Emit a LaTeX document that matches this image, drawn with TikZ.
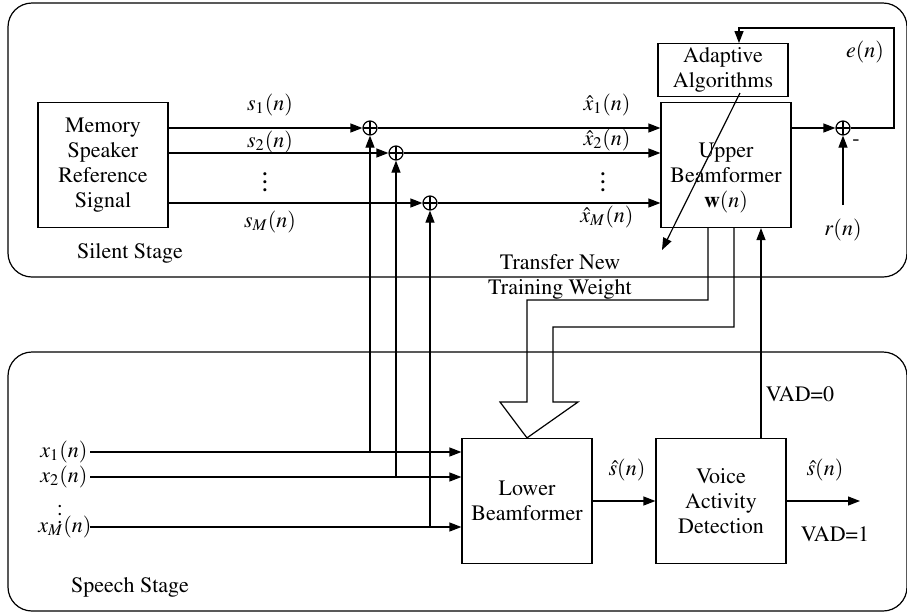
\documentclass[tikz,border=0pt]{standalone}
\usepackage[T1]{fontenc}
\usepackage{mathptmx}
\usetikzlibrary{arrows.meta,positioning}

\begin{document}
\begin{tikzpicture}[
    x=0.5pt, y=-0.5pt, line width=0.6pt,
    every node/.style={font=\fontsize{11}{12.5}\selectfont},
    box/.style={rectangle, draw, minimum width=65pt, minimum height=62.5pt,
                inner sep=2pt, align=center},
    sum/.style={circle, draw, minimum size=7pt, inner sep=0pt,
                path picture={\draw (path picture bounding box.north) -- (path picture bounding box.south)
                  (path picture bounding box.west) -- (path picture bounding box.east);}},
    stage/.style={draw, rounded corners=12pt},
    e/.style={-{Triangle[length=6pt, width=4.5pt]}},
    dts/.style={font=\Large, inner sep=0pt},
  ]
  \useasboundingbox (0,0) rectangle (907,612);
  \draw[stage] (8,3) rectangle (907,277);
  \draw[stage] (8,352) rectangle (907,611);
  \node (silent) at (130,253) {Silent Stage};
  \node (speech) at (130,587) {Speech Stage};

  \node[box] (mem) at (103,165) {Memory\\Speaker\\Reference\\Signal};
  \node[box, minimum height=25pt] (adapt) at (723,70) {Adaptive\\Algorithms};
  \node[box] (upper) at (726,165) {};
  \node[align=center] (uppertxt) at (726,178) {Upper\\Beamformer\\$\mathbf{w}(n)$};
  \node[box] (lower) at (527,501) {Lower\\Beamformer};
  \node[box] (vad) at (721,501) {Voice\\Activity\\Detection};

  \node[sum] (sum1) at (370,128) {};
  \node[sum] (sum2) at (396,153) {};
  \node[sum] (sumM) at (430,203) {};
  \node[sum] (sumE) at (843,128) {};

  \node (s1lbl) at (270,105) {$s_1(n)$};
  \node (s2lbl) at (270,142) {$s_2(n)$};
  \node[dts] (sdots) at (265,176) {$\vdots$};
  \node (sMlbl) at (270,222) {$s_M(n)$};
  \node (xh1lbl) at (607,105) {$\hat{x}_1(n)$};
  \node (xh2lbl) at (607,140) {$\hat{x}_2(n)$};
  \node[dts] (xhdots) at (603,176) {$\vdots$};
  \node (xhMlbl) at (607,217) {$\hat{x}_M(n)$};

  \coordinate (x1) at (90,452);
  \coordinate (x2) at (90,477);
  \coordinate (xM) at (90,527);
  \node[anchor=east, inner sep=1pt] (x1lbl) at (x1) {$x_1(n)$};
  \node[anchor=east, inner sep=1pt] (x2lbl) at (x2) {$x_2(n)$};
  \node[inner sep=0pt] (xdots) at (60,508) {$\vdots$};
  \node[anchor=east, inner sep=1pt] (xMlbl) at ([xshift=2pt]xM) {$x_M(n)$};

  \draw[e] (mem.east |- sum1) -- (sum1);
  \draw[e] (mem.east |- sum2) -- (sum2);
  \draw[e] (mem.east |- sumM) -- (sumM);
  \draw[e] (sum1) -- (upper.west |- sum1);
  \draw[e] (sum2) -- (upper.west |- sum2);
  \draw[e] (sumM) -- (upper.west |- sumM);

  \draw[e] (x1) -- (lower.west |- x1);
  \draw[e] (x2) -- (lower.west |- x2);
  \draw[e] (xM) -- (lower.west |- xM);
  \draw[e] (sum1 |- x1) -- (sum1);
  \draw[e] (sum2 |- x2) -- (sum2);
  \draw[e] (sumM |- xM) -- (sumM);

  \coordinate (fb) at (894,28);
  \coordinate (rin) at (843,205);
  \draw[e] (upper.east |- sumE) -- (sumE);
  \draw[e] (sumE) -| (fb) -| ([xshift=8pt]adapt.north);
  \draw[e] (rin) -- (sumE);
  \node (rlbl) at (843,230) {$r(n)$};
  \node (minus) at (856,143) {-};
  \node (elbl) at (865,52) {$e(n)$};

  \coordinate (da) at (740,93);
  \coordinate (db) at (662,250);
  \draw[e] (da) -- (db);

  \draw (upper.south -| 708,0) |- (527,300) -- (527,402) -- (500,402) -- (lower.north)
    -- (578,402) -- (553,402) -- (553,327) -| (upper.south -| 734,0);
  \node[align=center] (xfer) at (560,277) {Transfer New\\Training Weight};

  \draw[e] (vad.north -| 761,0) -- (upper.south -| 761,0);
  \node (vad0) at (800,394) {VAD=0};
  \draw[e] (lower) -- (vad);
  \node (shat1) at (627,470) {$\hat{s}(n)$};
  \coordinate (out) at (860,501);
  \draw[e] (vad) -- (out);
  \node (shat2) at (825,470) {$\hat{s}(n)$};
  \node (vad1) at (835,534) {VAD=1};
\end{tikzpicture}
\end{document}
